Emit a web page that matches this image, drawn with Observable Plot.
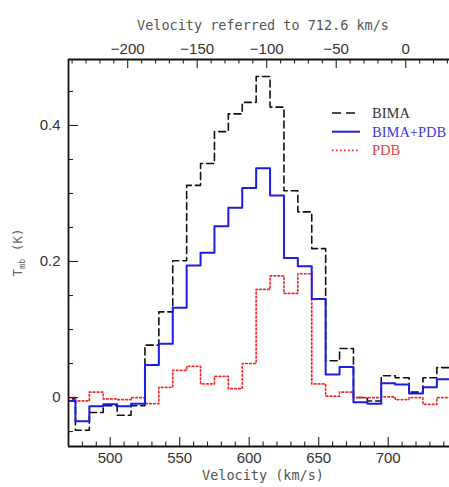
<!DOCTYPE html>
<html><head><meta charset="utf-8">
<script src="https://cdn.jsdelivr.net/npm/d3@7"></script>
<script src="https://cdn.jsdelivr.net/npm/@observablehq/plot@0.6"></script>
<style>
html,body{margin:0;padding:0;background:#fff;}
#chart{position:relative;width:449px;height:487px;overflow:hidden;}
</style></head><body><div id="chart"></div>
<script>
// Channel centre velocities (km/s)
const velocity = [470,480,490,500,510,520,530,540,550,560,570,580,590,600,610,620,630,640,650,660,670,680,690,700,710,720,730,740];
// Tmb (K) per channel
const bima    = [-0.002,-0.048,-0.022,-0.012,-0.026,-0.012,0.077,0.126,0.201,0.312,0.344,0.391,0.417,0.434,0.472,0.427,0.304,0.273,0.219,0.054,0.072,0.000,-0.005,0.032,0.029,0.008,0.029,0.044];
const bimaPdb = [-0.005,-0.035,-0.013,-0.010,-0.013,-0.009,0.048,0.079,0.132,0.194,0.213,0.252,0.279,0.308,0.337,0.297,0.205,0.193,0.145,0.034,0.045,-0.007,-0.009,0.021,0.019,0.006,0.015,0.027];
const pdb     = [0.000,-0.005,0.008,-0.002,-0.003,0.000,-0.009,0.015,0.040,0.046,0.020,0.031,0.013,0.050,0.159,0.179,0.153,0.182,0.020,0.002,0.008,0.000,0.000,0.001,-0.003,0.000,-0.010,0.000];
const seriesNames = ["BIMA","BIMA+PDB","PDB"];
const refVelocity = 712.6;
const topTickLabels = [-200,-150,-100,-50,0];
const bottomTickLabels = [500,550,600,650,700];
const yTickLabels = [0,0.2,0.4];

const W = 449, H = 487, mL = 68, mR = 0, mT = 59, mB = 41;
const xDom = [470, 744.1], yDom = [-0.072, 0.497];
const kx = (xDom[1]-xDom[0])/(W-mL-mR);
const ky = (yDom[1]-yDom[0])/(H-mT-mB);
const half = (velocity[1]-velocity[0])/2;

function stepRows(vals){
  const rows = velocity.map((v,i)=>({x:v-half, y:vals[i]}));
  rows.push({x:velocity[velocity.length-1]+half, y:vals[vals.length-1]});
  return rows;
}
const colors = {BIMA:"#111111","BIMA+PDB":"#1c1ce8",PDB:"#f22a2a"};
const dashes = {BIMA:"7,4","BIMA+PDB":null,PDB:"1.6,2.4"};
const widths = {BIMA:1.6,"BIMA+PDB":2,PDB:1.7};

// tick positions
const bottomMinor = d3.range(xDom[0], xDom[1], 10);
const topMinor = d3.range(-240, 40, 10).map(t=>t+refVelocity).filter(v=>v>=xDom[0]&&v<=xDom[1]);
const leftMinor = d3.range(-0.05, 0.46, 0.05).map(v=>Math.round(v*100)/100);
const isMajX = v => Math.abs(v/50 - Math.round(v/50)) < 1e-6;
const isMajTop = v => { const t = Math.round((v-refVelocity)*10)/10; return Math.abs(t/50-Math.round(t/50))<1e-6; };
const isMajY = v => Math.abs(v/0.2 - Math.round(v/0.2)) < 1e-6;
const fmtTop = d => { const t = Math.round(d-refVelocity); return t<0 ? "\u2212"+Math.abs(t) : String(t); };

const chart = Plot.plot({
  width: W, height: H,
  marginLeft: mL, marginRight: mR, marginTop: mT, marginBottom: mB,
  x: {domain: xDom, label: null},
  y: {domain: yDom, label: null},
  style: {fontFamily: "'Liberation Sans', Arial, sans-serif", fontSize: "15px", color: "#333", background: "#fff"},
  marks: [
    Plot.line(stepRows(bima), {x:"x", y:"y", curve:"step-after", stroke:colors.BIMA, strokeWidth:widths.BIMA, strokeDasharray:dashes.BIMA, clip:true}),
    Plot.line(stepRows(pdb), {x:"x", y:"y", curve:"step-after", stroke:colors.PDB, strokeWidth:widths.PDB, strokeDasharray:dashes.PDB, clip:true}),
    Plot.line(stepRows(bimaPdb), {x:"x", y:"y", curve:"step-after", stroke:colors["BIMA+PDB"], strokeWidth:widths["BIMA+PDB"], clip:true}),
    // frame (left, top, bottom)
    Plot.ruleX([xDom[0]], {stroke:"#111", strokeWidth:1.8}),
    Plot.ruleY([yDom[0], yDom[1]], {stroke:"#111", strokeWidth:1.8}),
    // inward ticks
    Plot.ruleX(bottomMinor, {x:d=>d, y1:yDom[0], y2:d=>yDom[0]+(isMajX(d)?9:4.5)*ky, stroke:"#222", strokeWidth:1.1}),
    Plot.ruleX(topMinor, {x:d=>d, y1:yDom[1], y2:d=>yDom[1]-(isMajTop(d)?9:4.5)*ky, stroke:"#222", strokeWidth:1.1}),
    Plot.ruleY(leftMinor, {y:d=>d, x1:xDom[0], x2:d=>xDom[0]+(isMajY(d)?10:5)*kx, stroke:"#222", strokeWidth:1.1}),
    // tick labels
    Plot.axisX({anchor:"bottom", ticks:bottomTickLabels, tickSize:0, tickPadding:6, label:null}),
    Plot.axisX({anchor:"top", ticks:topTickLabels.map(t=>t+refVelocity), tickFormat:fmtTop, tickSize:0, tickPadding:6, label:null}),
    Plot.axisY({anchor:"left", ticks:yTickLabels, tickFormat:d3.format("~g"), tickSize:0, tickPadding:8, label:null}),
    // axis titles
    Plot.text(["Velocity (km/s)"], {frameAnchor:"bottom", dy:33, dx:4, fontFamily:"'DejaVu Sans Mono', monospace", fontSize:13.5, fill:"#555"}),
    Plot.text(["Velocity referred to " + refVelocity + " km/s"], {frameAnchor:"top", dy:-39, dx:4, fontFamily:"'DejaVu Sans Mono', monospace", fontSize:13.5, fill:"#555"})
  ]
});
document.getElementById("chart").appendChild(chart);

const svg = d3.select(chart);
// y-axis title with subscript
const yl = svg.append("text")
  .attr("transform", `translate(22,${(mT + H - mB)/2}) rotate(-90)`)
  .attr("text-anchor","middle")
  .attr("font-family","'DejaVu Sans Mono', monospace")
  .attr("font-size",12.5)
  .attr("fill","#666");
yl.append("tspan").text("T");
yl.append("tspan").attr("font-size",8.5).attr("dy",3).text("mb");
yl.append("tspan").attr("dy",-3).text(" (K)");

// legend
const lg = svg.append("g").attr("transform","translate(332,113)");
seriesNames.forEach((name,i)=>{
  const g = lg.append("g").attr("transform",`translate(0,${i*18.7})`);
  g.append("line").attr("x1",0).attr("x2",28).attr("y1",0).attr("y2",0)
    .attr("stroke",colors[name]).attr("stroke-width",widths[name])
    .attr("stroke-dasharray", name==="BIMA" ? "9,5" : dashes[name]);
  g.append("text").attr("x",40).attr("y",0).attr("dy","0.35em")
    .attr("text-anchor","start")
    .attr("font-family","'Liberation Serif', 'Times New Roman', serif")
    .attr("font-size",14.5)
    .attr("fill", name==="BIMA" ? "#333" : name==="PDB" ? "#e04545" : "#3b3bd8")
    .text(name);
});
</script></body></html>
